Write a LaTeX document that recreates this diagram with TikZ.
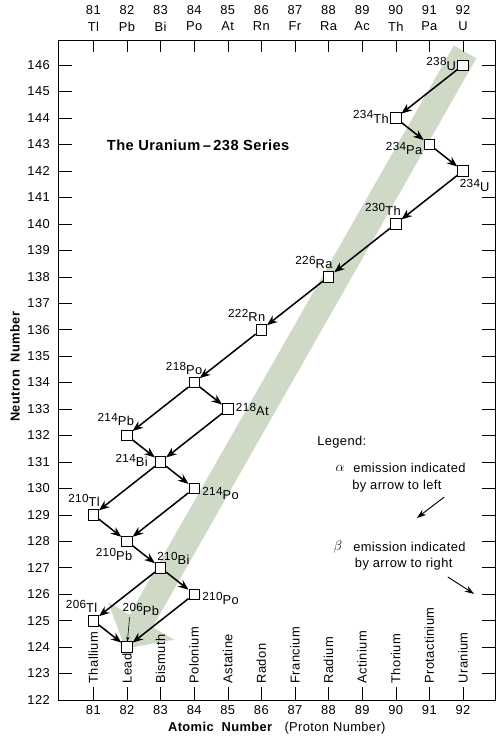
\documentclass[tikz,border=0pt]{standalone}
\usepackage{fontspec}
\setmainfont{Liberation Sans}[LetterSpace=3]
\usetikzlibrary{arrows.meta, positioning}
\definecolor{bandgreen}{RGB}{206,217,198}
\newcommand{\iso}[2]{\raisebox{0.6ex}{\fontsize{10}{10}\selectfont#1}#2}

\begin{document}
\begin{tikzpicture}[
        x=1.008cm, y=0.7935cm,
        nuc/.style={rectangle, draw, fill=white, line width=0.6pt,
                    minimum size=9pt, inner sep=0pt},
        lab/.style={font=\fontsize{11}{11}\selectfont, inner sep=1pt},
        decay/.style={-{Stealth[length=9pt, width=7pt]}, line width=1.3pt},
        legarrow/.style={-{Stealth[length=8pt, width=5.5pt]}, line width=0.8pt},
        axis/.style={font=\fontsize{11}{12}\selectfont, inner sep=0pt},
        legtext/.style={font=\fontsize{11}{12}\selectfont, inner sep=0pt, anchor=west},
        node distance=2pt]
  \useasboundingbox (78.223,120.639) rectangle (93.104,148.465);

  % shaded band of the series
  \fill[bandgreen] (91.73,146.74) -- (92.40,146.26) -- (82.76,124.75) -- (83.40,124.28)
        -- (81.95,123.94) -- (81.44,125.70) -- (82.08,125.23) -- cycle;

  % frame and ticks
  \draw[line width=0.6pt] (79.95,122) rectangle (92.95,146.95);
  \foreach \n in {123,...,146} {
    \draw (79.95,\n) -- ++(0.42,0);
    \draw (92.95,\n) -- ++(-0.39,0);
  }
  \foreach \n in {122,...,146}
    \node[axis, anchor=east] (n\n) at (79.71,\n) {\n};
  \foreach \z/\s/\name in {81/Tl/Thallium, 82/Pb/Lead, 83/Bi/Bismuth, 84/Po/Polonium,
      85/At/Astatine, 86/Rn/Radon, 87/Fr/Francium, 88/Ra/Radium, 89/Ac/Actinium,
      90/Th/Thorium, 91/Pa/Protactinium, 92/U/Uranium} {
    \draw (\z,146.95) -- ++(0,-0.45);
    \draw (\z,122) -- ++(0,0.5);
    \node[axis] (z\z) at (\z,148.09) {\z};
    \node[axis] (s\z) at (\z,147.46) {\s};
    \node[axis, rotate=90, anchor=west] (e\z) at (\z,122.62) {\name};
    \node[axis] (b\z) at (\z,121.62) {\z};
  }
  \node[axis, font=\fontsize{11}{12}\selectfont\bfseries, rotate=90] (ytitle)
       at (78.67,134.6) {Neutron\ \ Number};
  \node[axis] (xtitle) at (86.46,120.94)
       {\textbf{Atomic\ \ Number}\ \ \ (Proton Number)};
  \node[font=\fontsize{12.5}{14}\selectfont\bfseries] (title)
       at (84.12,142.98) {The Uranium\,--\,238 Series};

  % nuclides
  \node[nuc] (U238)  at (92,146) {};
  \node[nuc] (Th234) at (90,144) {};
  \node[nuc] (Pa234) at (91,143) {};
  \node[nuc] (U234)  at (92,142) {};
  \node[nuc] (Th230) at (90,140) {};
  \node[nuc] (Ra226) at (88,138) {};
  \node[nuc] (Rn222) at (86,136) {};
  \node[nuc] (Po218) at (84,134) {};
  \node[nuc] (At218) at (85,133) {};
  \node[nuc] (Pb214) at (82,132) {};
  \node[nuc] (Bi214) at (83,131) {};
  \node[nuc] (Po214) at (84,130) {};
  \node[nuc] (Tl210) at (81,129) {};
  \node[nuc] (Pb210) at (82,128) {};
  \node[nuc] (Bi210) at (83,127) {};
  \node[nuc] (Po210) at (84,126) {};
  \node[nuc] (Tl206) at (81,125) {};
  \node[nuc] (Pb206) at (82,124) {};

  \node[lab, left=0pt of U238, yshift=1pt] (U238-l) {\iso{238}{U}};
  \node[lab, left=0pt of Th234, yshift=1pt] (Th234-l) {\iso{234}{Th}};
  \node[lab, left=0pt of Pa234, yshift=-3pt] (Pa234-l) {\iso{234}{Pa}};
  \node[lab, below=1pt of U234, xshift=10pt] (U234-l) {\iso{234}{U}};
  \node[lab, above=1pt of Th230, xshift=-11pt] (Th230-l) {\iso{230}{Th}};
  \node[lab, above=1pt of Ra226, xshift=-12.5pt] (Ra226-l) {\iso{226}{Ra}};
  \node[lab, above=1pt of Rn222, xshift=-12.5pt] (Rn222-l) {\iso{222}{Rn}};
  \node[lab, above=1pt of Po218, xshift=-8.5pt] (Po218-l) {\iso{218}{Po}};
  \node[lab, right=1pt of At218] (At218-l) {\iso{218}{At}};
  \node[lab, above=2pt of Pb214, xshift=-9.5pt] (Pb214-l) {\iso{214}{Pb}};
  \node[lab, left=5pt of Bi214, yshift=1pt] (Bi214-l) {\iso{214}{Bi}};
  \node[lab, right=1pt of Po214, yshift=-4pt] (Po214-l) {\iso{214}{Po}};
  \node[lab, above=1pt of Tl210, xshift=-8pt] (Tl210-l) {\iso{210}{Tl}};
  \node[lab, below=0pt of Pb210, xshift=-11pt] (Pb210-l) {\iso{210}{Pb}};
  \node[lab, above=-3pt of Bi210, xshift=11pt] (Bi210-l) {\iso{210}{Bi}};
  \node[lab, right=1pt of Po210, yshift=-4pt] (Po210-l) {\iso{210}{Po}};
  \node[lab, above=1pt of Tl206, xshift=-10pt] (Tl206-l) {\iso{206}{Tl}};
  \node[lab, above=0.72cm of Pb206, xshift=0.42cm] (Pb206-l) {\iso{206}{Pb}};
  \draw[-{Stealth[length=4pt, width=3pt]}, line width=0.5pt]
       ([xshift=7pt]Pb206-l.south west) -- (Pb206);

  % decays
  \draw[decay] (U238) -- (Th234);
  \draw[decay] (Th234) -- (Pa234);
  \draw[decay] (Pa234) -- (U234);
  \draw[decay] (U234) -- (Th230);
  \draw[decay] (Th230) -- (Ra226);
  \draw[decay] (Ra226) -- (Rn222);
  \draw[decay] (Rn222) -- (Po218);
  \draw[decay] (Po218) -- (Pb214);
  \draw[decay] (Po218) -- (At218);
  \draw[decay] (At218) -- (Bi214);
  \draw[decay] (Pb214) -- (Bi214);
  \draw[decay] (Bi214) -- (Tl210);
  \draw[decay] (Bi214) -- (Po214);
  \draw[decay] (Po214) -- (Pb210);
  \draw[decay] (Tl210) -- (Pb210);
  \draw[decay] (Pb210) -- (Bi210);
  \draw[decay] (Bi210) -- (Tl206);
  \draw[decay] (Bi210) -- (Po210);
  \draw[decay] (Po210) -- (Pb206);
  \draw[decay] (Tl206) -- (Pb206);

  % legend
  \node[legtext] (leg) at (87.66,131.75) {Legend:};
  \node[font=\fontsize{13}{14}\selectfont] (alpha) at (88.34,130.77) {$\alpha$};
  \node[legtext] (alpha-1) at (88.73,130.77) {emission indicated};
  \node[legtext] (alpha-2) at (88.70,130.09) {by arrow to left};
  \coordinate (la-s) at (91.44,129.67);
  \coordinate (la-e) at (90.63,128.88);
  \draw[legarrow] (la-s) -- (la-e);
  \node[font=\fontsize{13}{14}\selectfont] (beta) at (88.28,127.78) {$\beta$};
  \node[legtext] (beta-1) at (88.73,127.78) {emission indicated};
  \node[legtext] (beta-2) at (88.78,127.14) {by arrow to right};
  \coordinate (lb-s) at (91.55,126.65);
  \coordinate (lb-e) at (92.33,126.01);
  \draw[legarrow] (lb-s) -- (lb-e);
\end{tikzpicture}
\end{document}
